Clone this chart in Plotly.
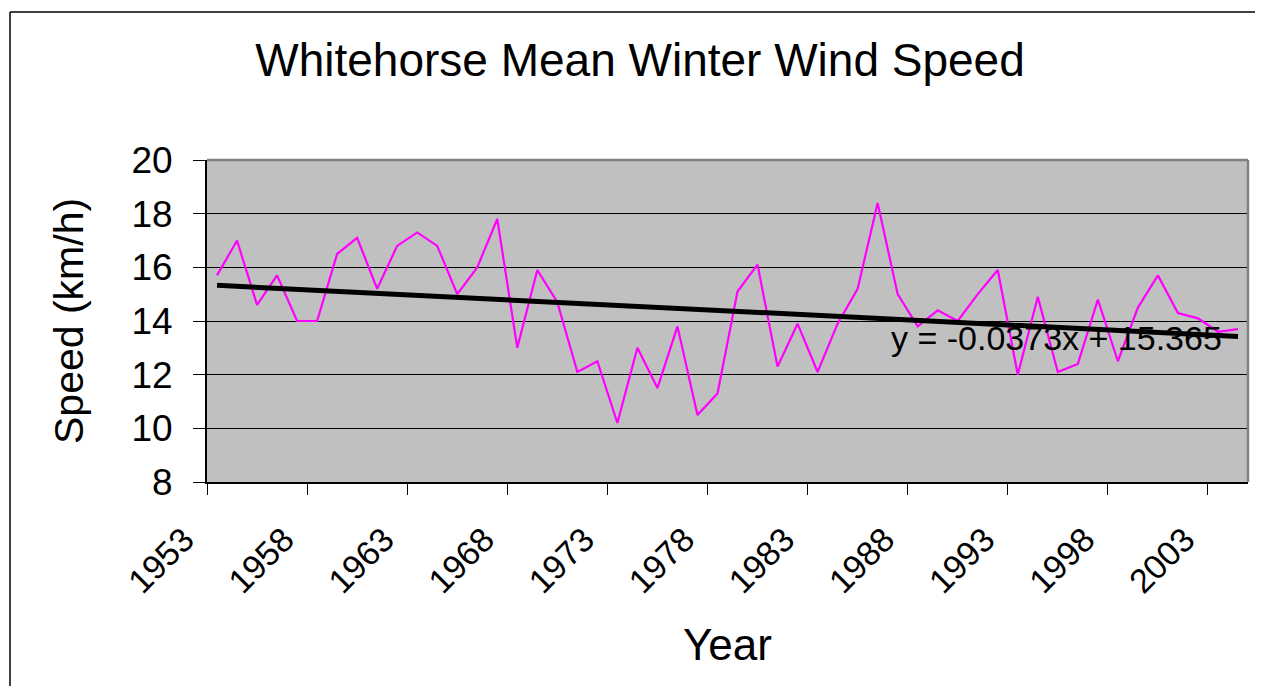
import plotly.graph_objects as go

years = list(range(1953, 2005))
speed = [15.7, 17.0, 14.6, 15.7, 14.0, 14.0, 16.5, 17.1, 15.2, 16.8,
         17.3, 16.8, 15.0, 16.0, 17.8, 13.0, 15.9, 14.7, 12.1, 12.5,
         10.2, 13.0, 11.5, 13.8, 10.5, 11.3, 15.1, 16.1, 12.3, 13.9,
         12.1, 13.9, 15.2, 18.4, 15.0, 13.8, 14.4, 14.0, 15.0, 15.9,
         12.0, 14.9, 12.1, 12.4, 14.8, 12.5, 14.5, 15.7, 14.3, 14.1,
         13.6, 13.7]
trend_slope = -0.0373
trend_intercept = 15.365
tick_labels = [str(y) for y in range(1953, 2004, 5)]
tick_positions = [y - 0.5 for y in range(1953, 2004, 5)]
y_ticks = [8, 10, 12, 14, 16, 18, 20]

trend = [trend_slope * (i + 1) + trend_intercept for i in range(len(years))]

# page is 1263x694; the figure div sits at an 8px body margin
OFF = 8
FW, FH = 1263 - 2 * OFF, 694 - 2 * OFF
L, R, T, B = 207 - OFF, 1248 - OFF, 160 - OFF, 482 - OFF
FONT = "Liberation Sans, Arial, Helvetica, sans-serif"


def px_x(p):
    """page x pixel -> paper coordinate"""
    return (p - OFF - L) / (R - L)


def px_y(p):
    """page y pixel -> paper coordinate"""
    return (B - (p - OFF)) / (B - T)


fig = go.Figure()
fig.add_trace(go.Scatter(x=years, y=speed, mode="lines",
                         line=dict(color="#FF00FF", width=2.2),
                         showlegend=False, hoverinfo="x+y"))
fig.add_trace(go.Scatter(x=years, y=trend, mode="lines",
                         line=dict(color="#000000", width=5),
                         showlegend=False, hoverinfo="skip"))

fig.update_layout(
    width=FW, height=FH,
    margin=dict(l=L, r=FW - R, t=T, b=FH - B, pad=0),
    paper_bgcolor="white",
    plot_bgcolor="#C0C0C0",
    font=dict(family=FONT, color="black"),
    title=dict(text="Whitehorse Mean Winter Wind Speed",
               font=dict(size=46, family=FONT, color="black"),
               xref="container", yref="container",
               x=(640 - OFF) / FW, y=1 - (60 - OFF) / FH,
               xanchor="center", yanchor="middle"),
    showlegend=False,
)

fig.update_xaxes(
    range=[1952.5, 2004.5],
    tickmode="array", tickvals=tick_positions, ticktext=tick_labels,
    ticklabelshift=-23, ticklabelstandoff=11,
    tickangle=-45, tickfont=dict(size=34, family=FONT, color="black"),
    ticks="outside", ticklen=11, tickwidth=1, tickcolor="black",
    showline=True, linecolor="black", linewidth=2,
    showgrid=False, zeroline=False,
)
fig.update_yaxes(
    range=[8, 20], tickmode="array", tickvals=y_ticks,
    tickfont=dict(size=37, family=FONT, color="black"),
    ticks="outside", ticklen=12, tickwidth=1, tickcolor="black",
    ticklabelstandoff=13,
    showline=True, linecolor="black", linewidth=2,
    showgrid=True, gridcolor="black", gridwidth=1, zeroline=False,
)

# plot area border (top/right grey)
fig.add_shape(type="line", xref="paper", yref="paper", x0=0, x1=1, y0=1, y1=1,
              line=dict(color="#808080", width=2.5), layer="above")
fig.add_shape(type="line", xref="paper", yref="paper", x0=1, x1=1, y0=0, y1=1,
              line=dict(color="#808080", width=2.5), layer="above")
# chart area border: only left and top edges fall inside the page
fig.add_shape(type="line", xref="paper", yref="paper",
              x0=px_x(10), x1=px_x(10), y0=px_y(740), y1=px_y(12),
              line=dict(color="black", width=1.5), layer="below")
fig.add_shape(type="line", xref="paper", yref="paper",
              x0=px_x(10), x1=px_x(1300), y0=px_y(12), y1=px_y(12),
              line=dict(color="black", width=1.5), layer="below")

fig.add_annotation(text="Year", xref="paper", yref="paper",
                   x=0.5, y=px_y(644), xanchor="center", yanchor="middle",
                   showarrow=False, font=dict(size=44, family=FONT, color="black"))
fig.add_annotation(text="Speed (km/h)", xref="paper", yref="paper",
                   x=px_x(69), y=0.5, xanchor="center", yanchor="middle",
                   textangle=-90, showarrow=False,
                   font=dict(size=41, family=FONT, color="black"))
fig.add_annotation(text="y = -0.0373x + 15.365", xref="x", yref="y",
                   x=1986.55, y=13.38, xanchor="left", yanchor="middle",
                   showarrow=False, font=dict(size=34, family=FONT, color="black"))

fig.write_html("out.html")
